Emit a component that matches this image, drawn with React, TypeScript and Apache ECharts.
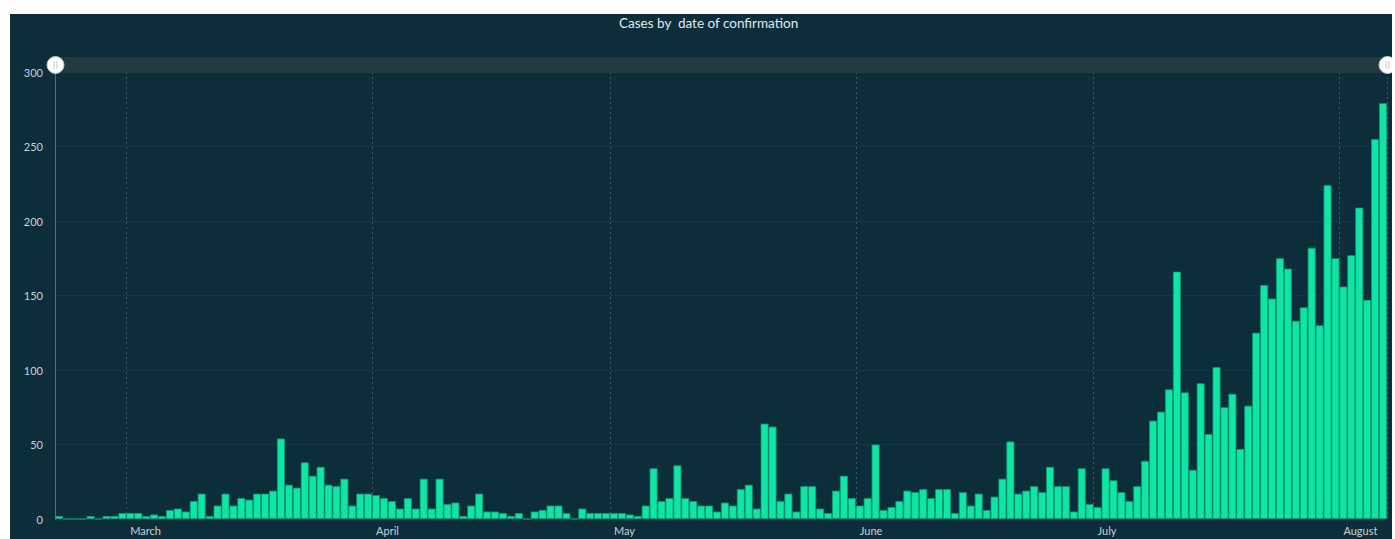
import React, { useEffect, useRef } from "react";
import * as echarts from "echarts";

// Daily confirmed cases, 2020-02-21 .. 2020-08-06
const cases: number[] = [
  2, 0, 0, 0, 2, 0, 2, 2, 4,
  4, 4, 2, 3, 2, 6, 7, 5, 12, 17, 2, 9, 17, 9, 14, 13, 17, 17, 19, 54, 23, 21, 38, 29, 35, 23, 22, 27, 9, 17, 17,
  16, 14, 12, 7, 14, 7, 27, 7, 27, 10, 11, 2, 9, 17, 5, 5, 4, 2, 4, 0, 5, 6, 9, 9, 4, 0, 7, 4, 4, 4,
  4, 4, 3, 2, 9, 34, 12, 14, 36, 14, 12, 9, 9, 5, 11, 9, 20, 23, 7, 64, 62, 12, 17, 5, 22, 22, 7, 4, 19, 29, 14,
  9, 14, 50, 6, 8, 12, 19, 18, 20, 14, 20, 20, 4, 18, 9, 17, 6, 15, 27, 52, 17, 19, 22, 18, 35, 22, 22, 5, 34, 10,
  8, 34, 26, 18, 12, 22, 39, 66, 72, 87, 166, 85, 33, 91, 57, 102, 75, 84, 47, 76, 125, 157, 148, 175, 168, 133, 142, 182, 130, 224, 175,
  156, 177, 209, 147, 255, 279,
];

const startDay = "2020-02-21";
const monthNames: string[] = [
  "January", "February", "March", "April", "May", "June",
  "July", "August", "September", "October", "November", "December",
];
const yTicks = { min: 0, max: 300, interval: 50 };
const titleText = "Cases by  date of confirmation";

const dayMs = 86400000;
const startMs = Date.parse(startDay);
const categories: string[] = cases.map((_, i) =>
  new Date(startMs + i * dayMs).toISOString().slice(0, 10)
);

const isMonthStart = (_i: number, v: string) => v.slice(8, 10) === "01";

const handlePath =
  "path://M0,10 A10,10 0 1,1 20,10 A10,10 0 1,1 0,10 Z M8.3,5.5 L8.3,14.5 M11.7,5.5 L11.7,14.5";

export default function App() {
  const ref = useRef<HTMLDivElement>(null);

  useEffect(() => {
    if (!ref.current) return;
    const chart = echarts.init(ref.current, null, { renderer: "svg" });
    chart.setOption({
      animation: false,
      backgroundColor: "#0c2e3a",
      textStyle: { fontFamily: "Lato, 'Open Sans', sans-serif" },
      title: {
        text: titleText,
        left: 609,
        top: 2,
        padding: 0,
        textStyle: {
          color: "#e4e8ea",
          fontSize: 13.5,
          fontWeight: "normal",
          fontFamily: "Lato, 'Open Sans', sans-serif",
        },
      },
      grid: { left: 45, right: 5, top: 58, bottom: 20 },
      dataZoom: [
        {
          type: "slider",
          xAxisIndex: 0,
          start: 0,
          end: 100,
          top: 43,
          height: 16,
          left: 43,
          right: 5,
          backgroundColor: "#233a42",
          fillerColor: "rgba(0,0,0,0)",
          borderColor: "transparent",
          showDataShadow: false,
          showDetail: false,
          brushSelect: false,
          moveHandleSize: 0,
          handleIcon: handlePath,
          handleSize: 17,
          handleStyle: { color: "#ffffff", borderColor: "#c4c4c4", borderWidth: 1 },
          emphasis: { handleStyle: { color: "#ffffff", borderColor: "#c4c4c4" } },
        },
      ],
      xAxis: {
        type: "category",
        data: categories,
        boundaryGap: true,
        axisLine: { show: false },
        axisTick: { show: false },
        axisLabel: {
          interval: isMonthStart,
          formatter: (v: string) => {
            const d = new Date(v);
            return d.getUTCDate() === 1 ? monthNames[d.getUTCMonth()] : "";
          },
          align: "left",
          color: "#c9d1d5",
          fontSize: 11,
          margin: 6,
        },
        splitLine: {
          show: true,
          interval: isMonthStart,
          lineStyle: { color: "rgba(255,255,255,0.22)", type: [2, 3], width: 1 },
        },
      },
      yAxis: {
        type: "value",
        min: yTicks.min,
        max: yTicks.max,
        interval: yTicks.interval,
        axisLine: { show: true, lineStyle: { color: "rgba(255,255,255,0.3)" } },
        axisTick: { show: false },
        axisLabel: { color: "#c9d1d5", fontSize: 11, margin: 12 },
        splitLine: {
          show: true,
          lineStyle: { color: "rgba(255,255,255,0.09)", type: [2, 2], width: 1 },
        },
      },
      series: [
        {
          type: "bar",
          data: cases,
          barCategoryGap: "0%",
          itemStyle: {
            color: "#0fe6a4",
            borderColor: "#0a9c78",
            borderWidth: 0.8,
          },
        },
      ],
    });
    return () => chart.dispose();
  }, []);

  return (
    <div
      ref={ref}
      style={{ position: "absolute", left: 10, top: 14, width: 1382, height: 525 }}
    />
  );
}
